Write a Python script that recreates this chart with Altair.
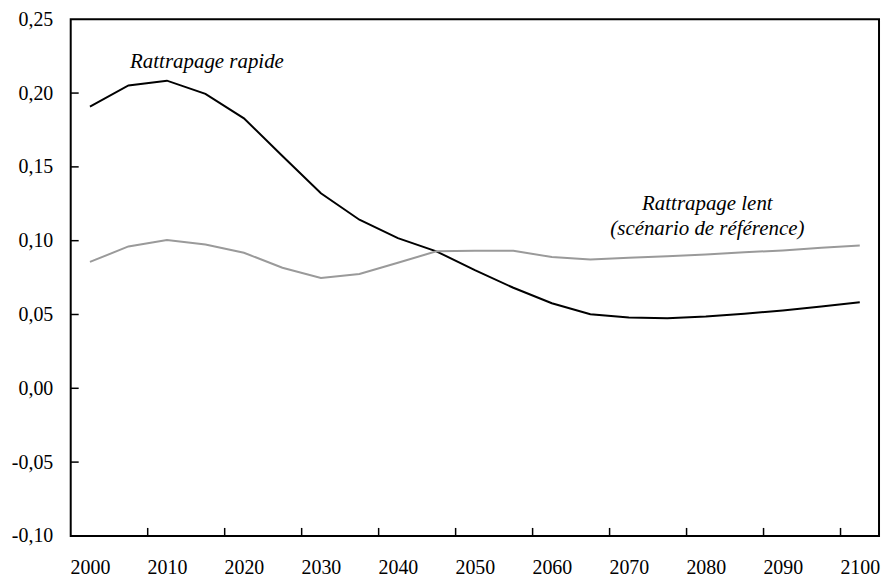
import altair as alt
import pandas as pd

# --- data ---
years = list(range(2000, 2101, 5))
rapide = [0.1909, 0.2052, 0.2084, 0.1995, 0.1829, 0.1574, 0.1321, 0.1142, 0.1017,
          0.0928, 0.0800, 0.0681, 0.0576, 0.0502, 0.0480, 0.0475, 0.0487, 0.0505,
          0.0527, 0.0554, 0.0583]
lent = [0.0856, 0.0961, 0.1005, 0.0974, 0.0918, 0.0817, 0.0748, 0.0775, 0.0851,
        0.0928, 0.0932, 0.0932, 0.0889, 0.0872, 0.0885, 0.0894, 0.0907, 0.0921,
        0.0934, 0.0952, 0.0968]
series_names = ["Rattrapage rapide", "Rattrapage lent"]
series_colors = ["#000000", "#9a9a9a"]

x_label_values = list(range(2000, 2101, 10))
x_tick_values = [2007.5 + 10 * i for i in range(10)]
y_label_values = [-0.10, -0.05, 0.0, 0.05, 0.10, 0.15, 0.20, 0.25]
y_tick_values = [-0.05, 0.0, 0.05, 0.10, 0.15, 0.20]

ann_text = ["Rattrapage rapide", "Rattrapage lent", "(scénario de référence)"]
ann_x = [2015.2, 2080.2, 2080.2]
ann_y = [0.2170, 0.1205, 0.1040]

FONT = "Liberation Serif"

df = pd.DataFrame({
    "year": years * 2,
    "value": rapide + lent,
    "serie": [series_names[0]] * len(years) + [series_names[1]] * len(years),
})

xscale = alt.Scale(domain=[1997.5, 2102.5], nice=False, zero=False)
yscale = alt.Scale(domain=[-0.10, 0.25], nice=False, zero=False)

xaxis = alt.Axis(values=x_label_values, format="d", title=None, ticks=False,
                 domain=False, grid=False, labelFlush=False, labelOverlap=False,
                 labelPadding=22)
yaxis = alt.Axis(values=y_label_values, title=None, ticks=False, domain=False,
                 grid=False, labelFlush=False, labelOverlap=False, labelPadding=18,
                 labelExpr="(datum.value < -0.0001 ? '-' : '') + replace(format(abs(datum.value), '.2f'), '.', ',')")

lines = alt.Chart(df).mark_line(strokeWidth=2).encode(
    x=alt.X("year:Q", scale=xscale, axis=xaxis),
    y=alt.Y("value:Q", scale=yscale, axis=yaxis),
    color=alt.Color("serie:N", scale=alt.Scale(domain=series_names, range=series_colors),
                    legend=None),
)

xticks = alt.Chart(pd.DataFrame({"year": x_tick_values})).mark_rule(
    color="black", strokeWidth=1.5).encode(
    x=alt.X("year:Q", scale=xscale, axis=xaxis),
    y=alt.value(519), y2=alt.value(511),
)

yticks = alt.Chart(pd.DataFrame({"value": y_tick_values})).mark_rule(
    color="black", strokeWidth=1.5).encode(
    y=alt.Y("value:Q", scale=yscale, axis=yaxis),
    x=alt.value(0), x2=alt.value(8),
)

ann = alt.Chart(pd.DataFrame({"year": ann_x, "value": ann_y, "t": ann_text})).mark_text(
    font=FONT, fontStyle="italic", fontSize=21, color="black", align="center",
    baseline="alphabetic").encode(
    x=alt.X("year:Q", scale=xscale, axis=xaxis),
    y=alt.Y("value:Q", scale=yscale, axis=yaxis),
    text="t:N",
)

chart = alt.layer(lines, xticks, yticks, ann).properties(
    width=812, height=519,
    autosize=alt.AutoSizeParams(type="none"),
    padding={"left": 63, "top": 10, "right": 5, "bottom": 48},
    background="white",
).configure_view(
    stroke="black", strokeWidth=2
).configure_axis(
    labelFont=FONT, labelFontSize=20, labelColor="black"
)

chart.save("out.html", embed_options={"renderer": "svg", "actions": False})
